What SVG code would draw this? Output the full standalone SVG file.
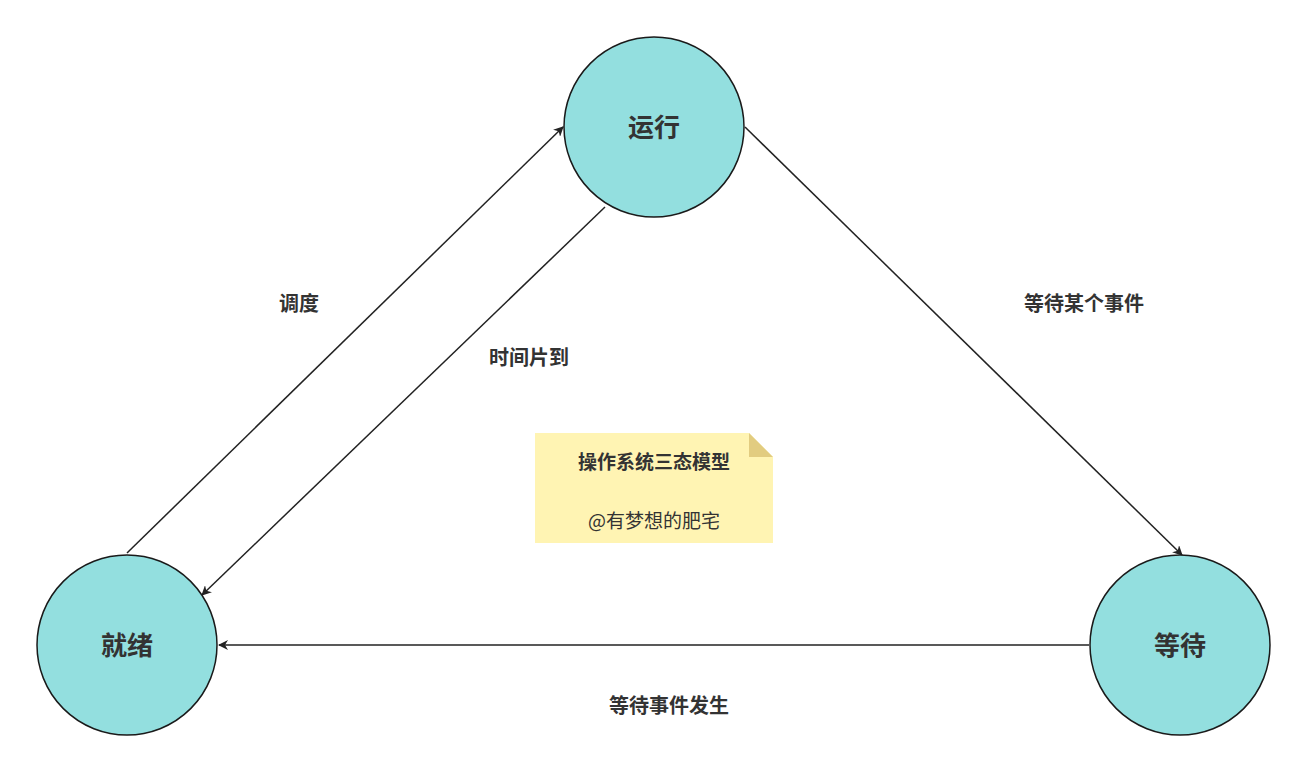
<svg xmlns="http://www.w3.org/2000/svg" width="1308" height="772" viewBox="0 0 1308 772">
<style>
.n{fill:#93dfdf;stroke:#1a1a1a;stroke-width:1.5}
.t{font-family:"Noto Sans CJK SC",sans-serif;font-weight:bold;fill:#333;text-anchor:middle}
.l{stroke:#222;stroke-width:1.5;fill:none;marker-end:url(#a)}
</style>
<defs><marker id="a" viewBox="0 0 10 10" refX="9" refY="5" markerWidth="10" markerHeight="10" markerUnits="userSpaceOnUse" orient="auto"><path d="M0,0L10,5L0,10L3,5Z" fill="#222"/></marker></defs>
<rect width="1308" height="772" fill="#fff"/>
<g id="connectors">
<line class="l" x1="127" y1="553" x2="563" y2="127"/>
<line class="l" x1="605" y1="207" x2="202" y2="595"/>
<line class="l" x1="745" y1="127" x2="1182" y2="555"/>
<line class="l" x1="1089" y1="645" x2="219" y2="645"/>
<text class="t" x="299" y="311" font-size="20">调度</text>
<text class="t" x="529" y="365" font-size="20">时间片到</text>
<text class="t" x="1084" y="311" font-size="20">等待某个事件</text>
<text class="t" x="669" y="713" font-size="20">等待事件发生</text>
</g>
<g id="run"><circle class="n" cx="654" cy="127" r="90"/><text class="t" x="654" y="137" font-size="26">运行</text></g>
<g id="ready"><circle class="n" cx="127" cy="645" r="90"/><text class="t" x="127" y="655" font-size="26">就绪</text></g>
<g id="wait"><circle class="n" cx="1180" cy="645" r="90"/><text class="t" x="1180" y="655" font-size="26">等待</text></g>
<g id="note">
<path d="M535,433H749L773,457V543H535Z" fill="#fff4b3"/>
<path d="M749,433V457H773Z" fill="#e2cc80"/>
<text class="t" x="654" y="469" font-size="19">操作系统三态模型</text>
<text x="654" y="528" font-size="19" text-anchor="middle" fill="#333" font-family="Noto Sans CJK SC,sans-serif">@有梦想的肥宅</text>
</g>
</svg>
